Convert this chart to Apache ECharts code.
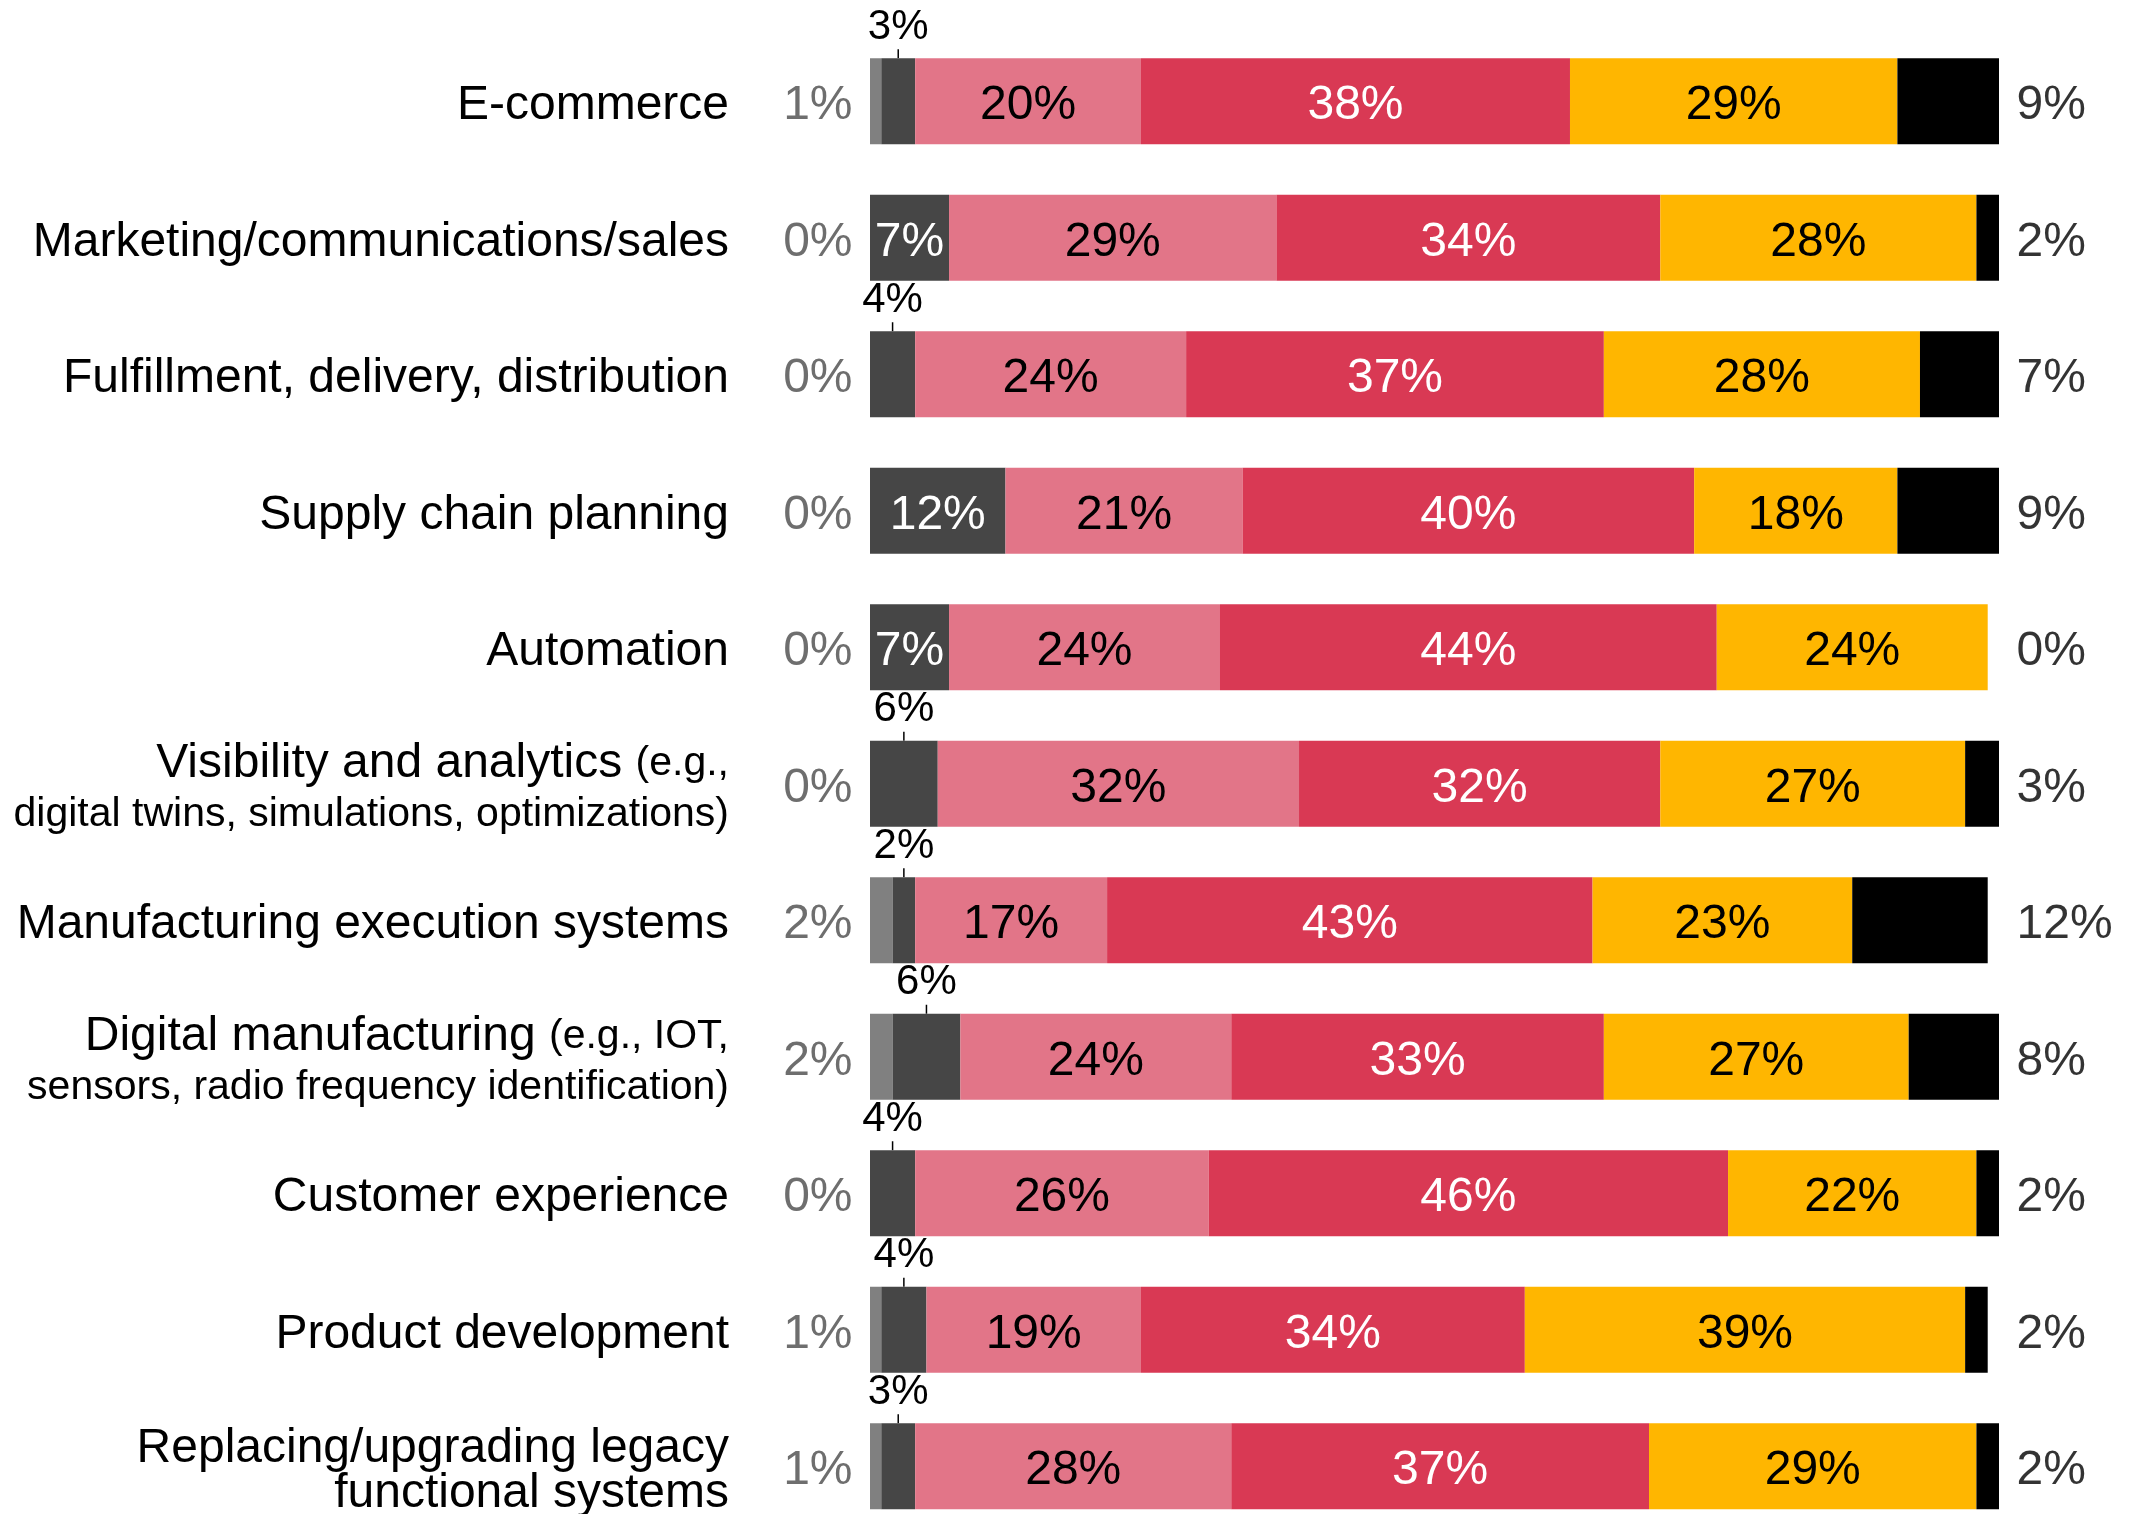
<!DOCTYPE html>
<html>
<head>
<meta charset="utf-8">
<script src="https://cdn.jsdelivr.net/npm/echarts@6/dist/echarts.min.js"></script>
<style>
html,body{margin:0;padding:0;background:#fff;}
#chart{width:2140px;height:1514px;}
</style>
</head>
<body>
<div id="chart"></div>
<script>
// ---- data ----
var categories = [
  'E-commerce',
  'Marketing/communications/sales',
  'Fulfillment, delivery, distribution',
  'Supply chain planning',
  'Automation',
  'Visibility and analytics (e.g., digital twins, simulations, optimizations)',
  'Manufacturing execution systems',
  'Digital manufacturing (e.g., IOT, sensors, radio frequency identification)',
  'Customer experience',
  'Product development',
  'Replacing/upgrading legacy functional systems'
];
var lightGrayValues = [1, 0, 0, 0, 0, 0, 2, 2, 0, 1, 1];
var darkGrayValues  = [3, 7, 4, 12, 7, 6, 2, 6, 4, 4, 3];
var pinkValues      = [20, 29, 24, 21, 24, 32, 17, 24, 26, 19, 28];
var redValues       = [38, 34, 37, 40, 44, 32, 43, 33, 46, 34, 37];
var yellowValues    = [29, 28, 28, 18, 24, 27, 23, 27, 22, 39, 29];
var blackValues     = [9, 2, 7, 9, 0, 3, 12, 8, 2, 2, 2];

// ---- styling ----
var FONT = "'Liberation Sans', Arial, Helvetica, sans-serif";
var C_LIGHT = '#808080', C_DARK = '#464646', C_PINK = '#E27588',
    C_RED = '#D93954', C_YELLOW = '#FFB600', C_BLACK = '#000000';

function richLabel(name) {
  if (name.indexOf('Visibility') === 0) {
    return '{a2|Visibility and analytics }{b|(e.g.,}\n{b|digital twins, simulations, optimizations)}';
  }
  if (name.indexOf('Digital manufacturing') === 0) {
    return '{a2|Digital manufacturing }{b|(e.g., IOT,}\n{b|sensors, radio frequency identification)}';
  }
  if (name.indexOf('Replacing') === 0) {
    return '{c|Replacing/upgrading legacy}\n{c|functional systems}';
  }
  return '{a|' + name + '}';
}

var chart = echarts.init(document.getElementById('chart'), null, {renderer: 'canvas'});

function pctLabel(p) { return p.value + '%'; }

var darkData = darkGrayValues.map(function (v) {
  if (v >= 7) {
    return {value: v, label: {show: true, position: 'inside', color: '#fff', fontSize: 48, offset: [0, 5]}};
  }
  return {value: v, label: {show: true, position: 'top', distance: 10, color: '#000', fontSize: 42}};
});

var option = {
  backgroundColor: '#fff',
  animation: false,
  textStyle: {fontFamily: FONT},
  grid: {left: 870, width: 1129, top: 33, height: 1501.5, outerBoundsMode: 'none'},
  xAxis: {type: 'value', min: 0, max: 100, show: false},
  yAxis: {
    type: 'category', data: categories, inverse: true,
    axisLine: {show: false}, axisTick: {show: false}, splitLine: {show: false},
    axisLabel: {
      margin: 141, color: '#000', fontFamily: FONT,
      padding: [10, 0, 0, 0],
      formatter: richLabel,
      rich: {
        a: {fontSize: 48, lineHeight: 48, fontFamily: FONT, color: '#000'},
        a2: {fontSize: 48, lineHeight: 52, fontFamily: FONT, color: '#000'},
        b: {fontSize: 41, lineHeight: 50, fontFamily: FONT, color: '#000'},
        c: {fontSize: 48, lineHeight: 45, fontFamily: FONT, color: '#000'}
      }
    }
  },
  series: [
    {type: 'bar', stack: 't', barWidth: 86, data: lightGrayValues, itemStyle: {color: C_LIGHT}, label: {show: false}},
    {type: 'bar', stack: 't', barWidth: 86, data: darkData, itemStyle: {color: C_DARK},
      label: {show: true, formatter: pctLabel, fontFamily: FONT}},
    {type: 'bar', stack: 't', barWidth: 86, data: pinkValues, itemStyle: {color: C_PINK},
      label: {show: true, position: 'inside', offset: [0, 5], formatter: pctLabel, color: '#000', fontSize: 48, fontFamily: FONT}},
    {type: 'bar', stack: 't', barWidth: 86, data: redValues, itemStyle: {color: C_RED},
      label: {show: true, position: 'inside', offset: [0, 5], formatter: pctLabel, color: '#fff', fontSize: 48, fontFamily: FONT}},
    {type: 'bar', stack: 't', barWidth: 86, data: yellowValues, itemStyle: {color: C_YELLOW},
      label: {show: true, position: 'inside', offset: [0, 5], formatter: pctLabel, color: '#000', fontSize: 48, fontFamily: FONT}},
    {type: 'bar', stack: 't', barWidth: 86, data: blackValues, itemStyle: {color: C_BLACK}, label: {show: false}},
    // left value labels (first segment) at axis start
    {type: 'scatter', symbolSize: 1, itemStyle: {color: 'rgba(0,0,0,0)'}, silent: true,
      data: lightGrayValues.map(function (v, i) { return [0, i, v]; }),
      label: {show: true, position: 'left', distance: 17, offset: [0, 5], color: '#4a4a4a', fontSize: 48, fontFamily: FONT,
        formatter: function (p) { return p.value[2] + '%'; }}},
    // right value labels (last segment) at axis end
    {type: 'scatter', symbolSize: 1, itemStyle: {color: 'rgba(0,0,0,0)'}, silent: true,
      data: blackValues.map(function (v, i) { return [100, i, v]; }),
      label: {show: true, position: 'right', distance: 17, offset: [0, 5], color: '#000', fontSize: 48, fontFamily: FONT,
        formatter: function (p) { return p.value[2] + '%'; }}},
    // tick lines for small dark-gray values labelled above
    {type: 'custom', silent: true,
      data: darkGrayValues.map(function (v, i) { return [lightGrayValues[i] + v / 2, i, v]; }),
      encode: {x: 0, y: 1},
      renderItem: function (params, api) {
        if (api.value(2) >= 7) return null;
        var pt = api.coord([api.value(0), api.value(1)]);
        var top = pt[1] - 43;
        return {type: 'line', shape: {x1: pt[0], y1: top - 9, x2: pt[0], y2: top},
          style: {stroke: '#000', lineWidth: 1.5}};
      }}
  ]
};
chart.setOption(option);
</script>
</body>
</html>
